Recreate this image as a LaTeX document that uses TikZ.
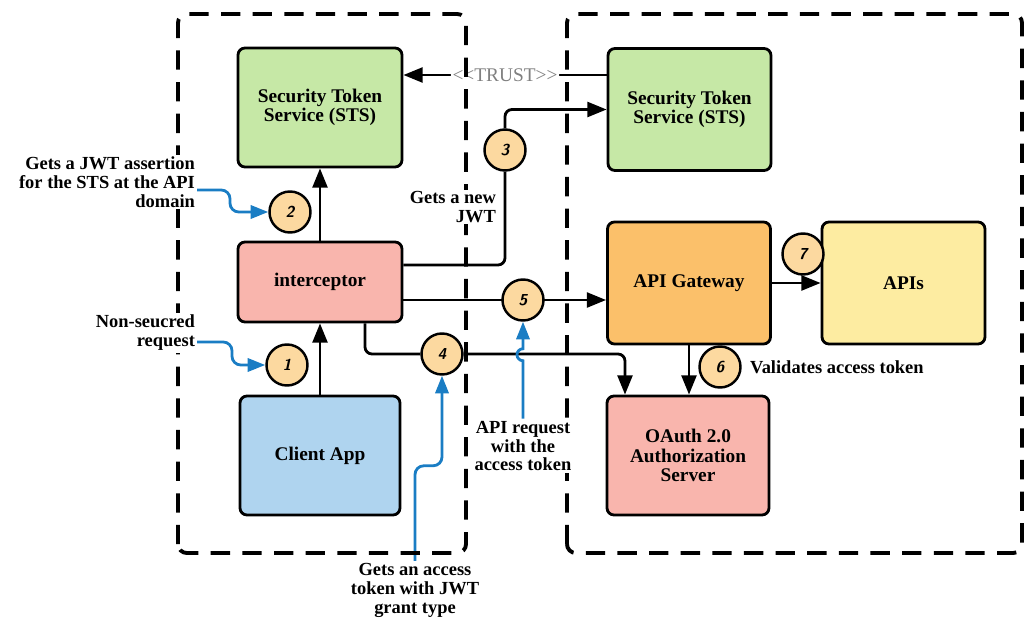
\documentclass[tikz,border=0pt]{standalone}
\usepackage{fontspec}
\setmainfont{Liberation Serif}
\usetikzlibrary{arrows.meta,positioning}
\usepackage{xcolor}
\definecolor{stsgreen}{HTML}{C6E8A6}
\definecolor{icptpink}{HTML}{F9B5AD}
\definecolor{appblue}{HTML}{AFD4EF}
\definecolor{gworange}{HTML}{FBC06A}
\definecolor{apiyellow}{HTML}{FDECA1}
\definecolor{numfill}{HTML}{FCD9A0}
\definecolor{noteblue}{HTML}{1A7DC4}
\pgfdeclarelayer{back}
\pgfsetlayers{back,main}

\begin{document}
\begin{tikzpicture}[
  box/.style={draw, line width=1.6pt, rounded corners=4pt, align=center,
    font=\fontsize{11}{11}\selectfont\bfseries},
  num/.style={draw, circle, line width=1.4pt, fill=numfill, minimum size=0.82cm,
    inner sep=0pt, font=\sffamily\itshape\bfseries\small},
  arr/.style={line width=1.6pt, rounded corners=4pt, -{Triangle[length=11pt,width=8.5pt]}},
  blu/.style={line width=1.6pt, draw=noteblue, rounded corners=5pt,
    -{Triangle[length=10pt,width=7.5pt]}, color=noteblue},
  note/.style={font=\fontsize{10.5}{10.8}\selectfont\bfseries, inner sep=1pt, fill=white},
  zone/.style={draw, line width=2.2pt, rounded corners=5pt, dash pattern=on 11pt off 7pt}
]
\useasboundingbox (0,0) rectangle (20.5,12.4);

% trust zones
\draw[zone] (3.56,1.34) rectangle (9.32,12.12);
\draw[zone] (11.34,1.34) rectangle (20.44,12.12);

% boxes
\node[box, fill=stsgreen, minimum width=3.28cm, minimum height=2.38cm] (stsL) at (6.4,10.25) {Security Token\\Service (STS)};
\node[box, fill=stsgreen, minimum width=3.26cm, minimum height=2.44cm] (stsR) at (13.79,10.21) {Security Token\\Service (STS)};
\node[box, fill=icptpink, minimum width=3.28cm, minimum height=1.6cm] (icpt) at (6.4,6.76) {interceptor};
\node[box, fill=appblue, minimum width=3.2cm, minimum height=2.38cm] (client) at (6.4,3.29) {Client App};
\node[box, fill=gworange, minimum width=3.26cm, minimum height=2.44cm] (gw) at (13.78,6.74) {API Gateway};
\node[box, fill=apiyellow, minimum width=3.26cm, minimum height=2.44cm] (apis) at (18.07,6.74) {APIs};
\node[box, fill=icptpink, minimum width=3.24cm, minimum height=2.38cm] (oauth) at (13.76,3.29) {OAuth 2.0\\Authorization\\Server};

% step numbers
\node[num] (c1) at (5.74,5.1) {1};
\node[num] (c2) at (5.8,8.16) {2};
\node[num] (c3) at (10.1,9.4) {3};
\node[num] (c4) at (8.84,5.32) {4};
\node[num] (c5) at (10.46,6.4) {5};
\node[num] (c6) at (14.4,5.06) {6};
\node[num] (c7) at (16.06,7.32) {7};

% notes
\node[note, align=right, anchor=east] (t2) at (3.94,8.76) {Gets a JWT assertion\\for the STS at the API\\domain};
\node[note, align=right, anchor=east] (t1) at (3.94,5.74) {Non-seucred\\request};
\node[note, align=right, anchor=east] (t3) at (9.96,8.26) {Gets a new\\JWT};
\node[note, anchor=west] (t6) at (14.96,5.06) {Validates access token};
\node[note, align=center] (t5) at (10.46,3.48) {API request\\with the\\access token};
\node[note, align=center] (t4) at (8.3,0.6) {Gets an access\\token with JWT\\grant type};

\begin{pgfonlayer}{back}
\draw[arr] (client) -- (icpt);
\draw[arr] (icpt) -- (stsL);
\draw[arr] ([yshift=0.34cm]icpt.east) -| (c3) |- (stsR.west);
\draw[arr] ([yshift=0.69cm]stsR.west) -- ([yshift=0.69cm]stsR.west -| stsL.east)
  node[midway, fill=white, inner sep=1pt, text=gray, font=\fontsize{11}{11}\selectfont] {{<}{<}TRUST{>}{>}};
\draw[arr] ([yshift=-0.36cm]icpt.east) -- ([yshift=-0.36cm]icpt.east -| gw.west);
\draw[arr] ([xshift=0.9cm]icpt.south) |- (c4) -| ([xshift=-1.26cm]oauth.north);
\draw[arr] (gw.south) -- (gw.south |- oauth.north);
\draw[arr] (gw) -- (apis);

\draw[blu] ([yshift=-0.16cm]t2.east) -- ++(0.66,0) |- (c2.west);
\draw[blu] ([yshift=-0.18cm]t1.east) -- ++(0.7,0) |- (c1.west);
\draw[blu] (t4.north) -- ++(0,1.9) -| (c4.south);
\draw[blu, rounded corners=0pt] (t5.north) -- ++(0,1.16) arc[start angle=-90, end angle=-270, radius=0.12] -- (c5.south);
\end{pgfonlayer}
\end{tikzpicture}
\end{document}
